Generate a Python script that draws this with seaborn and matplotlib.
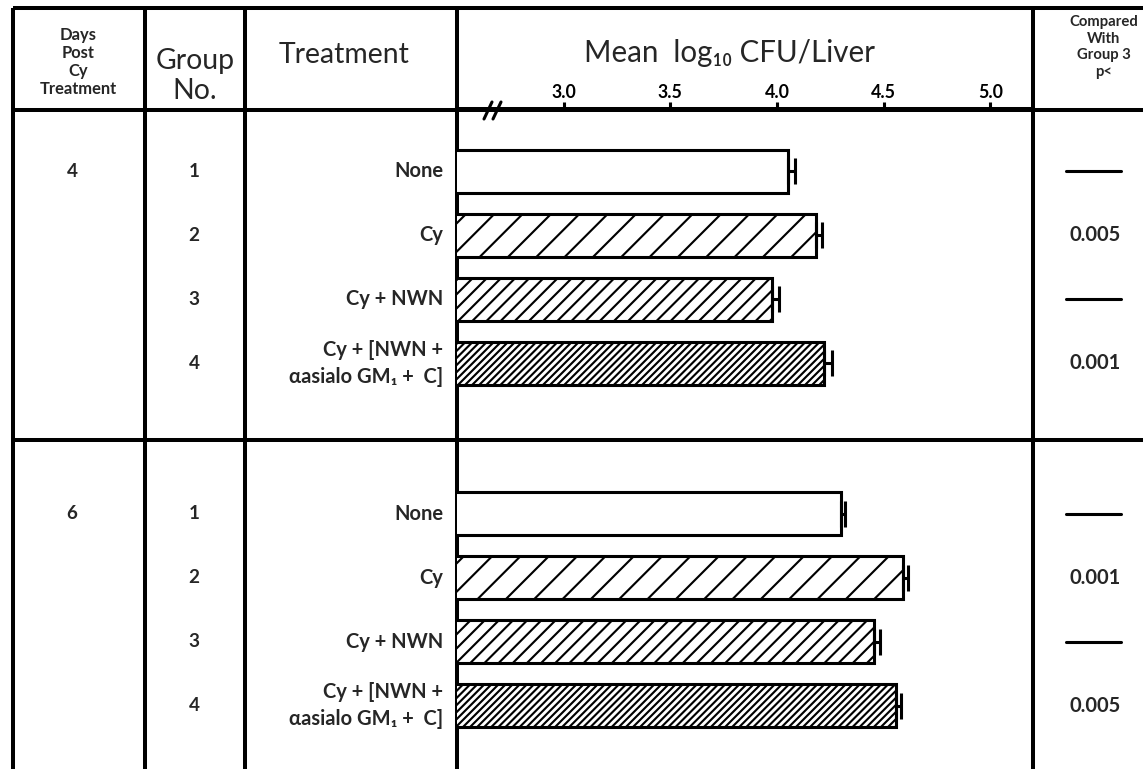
import pandas as pd
import matplotlib
matplotlib.use("Agg")
import matplotlib.pyplot as plt
import matplotlib.transforms as mtransforms
import seaborn as sns

# --- data ---
days = ["4", "6"]
groups = [1, 2, 3, 4]
treatments = ["None", "Cy", "Cy + NWN", "Cy + [NWN +\nαasialo GM₁ +  C]"]
mean_day4 = [4.05, 4.185, 3.977, 4.22]
sem_day4 = [0.034, 0.027, 0.034, 0.040]
mean_day6 = [4.30, 4.59, 4.455, 4.556]
sem_day6 = [0.020, 0.026, 0.028, 0.023]
p_day4 = [None, "0.005", None, "0.001"]
p_day6 = [None, "0.001", None, "0.005"]
xticks = [3.0, 3.5, 4.0, 4.5, 5.0]
tick_labels = ["3.0", "3.5", "4.0", "4.5", "5.0"]
hatches = ["", "//", "////", "////////"]

block_offset = [0, 5.35]   # row offset of the day-6 block

rows = []
for d, off, means, sems, ps in zip(days, block_offset, [mean_day4, mean_day6],
                                   [sem_day4, sem_day6], [p_day4, p_day6]):
    for g, t, m, s, p in zip(groups, treatments, means, sems, ps):
        rows.append(dict(day=d, group=g, treatment=t, mean=m, sem=s, p=p, pos=off + g - 1))
df = pd.DataFrame(rows)

sns.set_theme(style="white")
plt.rcParams["font.family"] = ["Lato", "DejaVu Sans"]
plt.rcParams["hatch.linewidth"] = 0.9
plt.rcParams["hatch.color"] = "black"

W, H, DPI = 1143, 769, 170
fig = plt.figure(figsize=(W / DPI, H / DPI), dpi=DPI)
fig.patch.set_facecolor("white")

# background "table" axes in pixel units
bg = fig.add_axes([0, 0, 1, 1])
bg.set_xlim(0, W)
bg.set_ylim(H, 0)
bg.axis("off")

# bar panel
left, right, top = 457, 1033, 109
ax = fig.add_axes([left / W, 0, (right - left) / W, (H - top) / H])
ax.set_facecolor("none")

sns.barplot(data=df, x="mean", y="pos", orient="y", native_scale=True, width=0.67,
            color="white", edgecolor="black", linewidth=1.3, saturation=1, ax=ax)
for patch in ax.patches:
    yc = patch.get_y() + patch.get_height() / 2
    idx = (df["pos"] - yc).abs().idxmin()
    patch.set_hatch(hatches[df.loc[idx, "group"] - 1])
    patch.set_facecolor("white")

ax.errorbar(df["mean"], df["pos"], xerr=[[0] * len(df), df["sem"]], fmt="none",
            ecolor="black", elinewidth=1.3, capsize=5.5, capthick=1.3, zorder=5)

ax.set_xlim(2.5, 5.2)
ax.set_ylim(9.34, -0.97)
ax.set_xlabel("")
ax.set_ylabel("")
ax.set_yticks([])
ax.xaxis.tick_top()
ax.set_xticks(xticks)
ax.set_xticklabels(tick_labels, fontsize=7.5, fontweight="bold")
ax.tick_params(axis="x", direction="out", length=3, width=1.3, pad=0.3, colors="black")
for side in ["left", "right", "bottom"]:
    ax.spines[side].set_visible(False)
ax.spines["top"].set_linewidth(1.7)
ax.spines["top"].set_color("black")

# table rules
lw = 1.7
for y in [8, 110, 440]:
    bg.plot([13, W], [y, y], color="black", lw=lw, solid_capstyle="butt")
for x in [13, 145, 245, 457, 1033]:
    bg.plot([x, x], [8, H], color="black", lw=lw, solid_capstyle="butt")
# axis break mark
bg.plot([484, 492], [119, 102], color="black", lw=1.3)
bg.plot([493, 501], [119, 102], color="black", lw=1.3)

# headers
bg.text(78, 62, "Days\nPost\nCy\nTreatment", ha="center", va="center",
        fontsize=7, fontweight="bold", linespacing=1.15)
bg.text(195, 76, "Group\nNo.", ha="center", va="center", fontsize=12, linespacing=1.2)
bg.text(344, 55, "Treatment", ha="center", va="center", fontsize=12)
bg.text(730, 53, "Mean  log₁₀ CFU/Liver", ha="center", va="center", fontsize=12.5)
bg.text(1104, 47, "Compared\nWith\nGroup 3\np<", ha="center", va="center",
        fontsize=6.3, fontweight="bold", linespacing=1.25)

# row labels aligned with the bars
row_tf = mtransforms.blended_transform_factory(bg.transData, ax.transData)
for _, r in df.iterrows():
    if r["group"] == 1:
        bg.text(72, r["pos"], r["day"], transform=row_tf, ha="center", va="center",
                fontsize=8, fontweight="bold")
    bg.text(194, r["pos"], str(r["group"]), transform=row_tf, ha="center", va="center",
            fontsize=8, fontweight="bold")
    bg.text(443, r["pos"], r["treatment"], transform=row_tf, ha="right", va="center",
            fontsize=8.5, fontweight="bold", linespacing=1.45)
    if r["p"] is None:
        bg.plot([1066, 1121], [r["pos"], r["pos"]], transform=row_tf, color="black", lw=1.3)
    else:
        bg.text(1095, r["pos"], r["p"], transform=row_tf, ha="center", va="center",
                fontsize=8.5, fontweight="bold")

fig.savefig("out.png", dpi=DPI, facecolor="white")
